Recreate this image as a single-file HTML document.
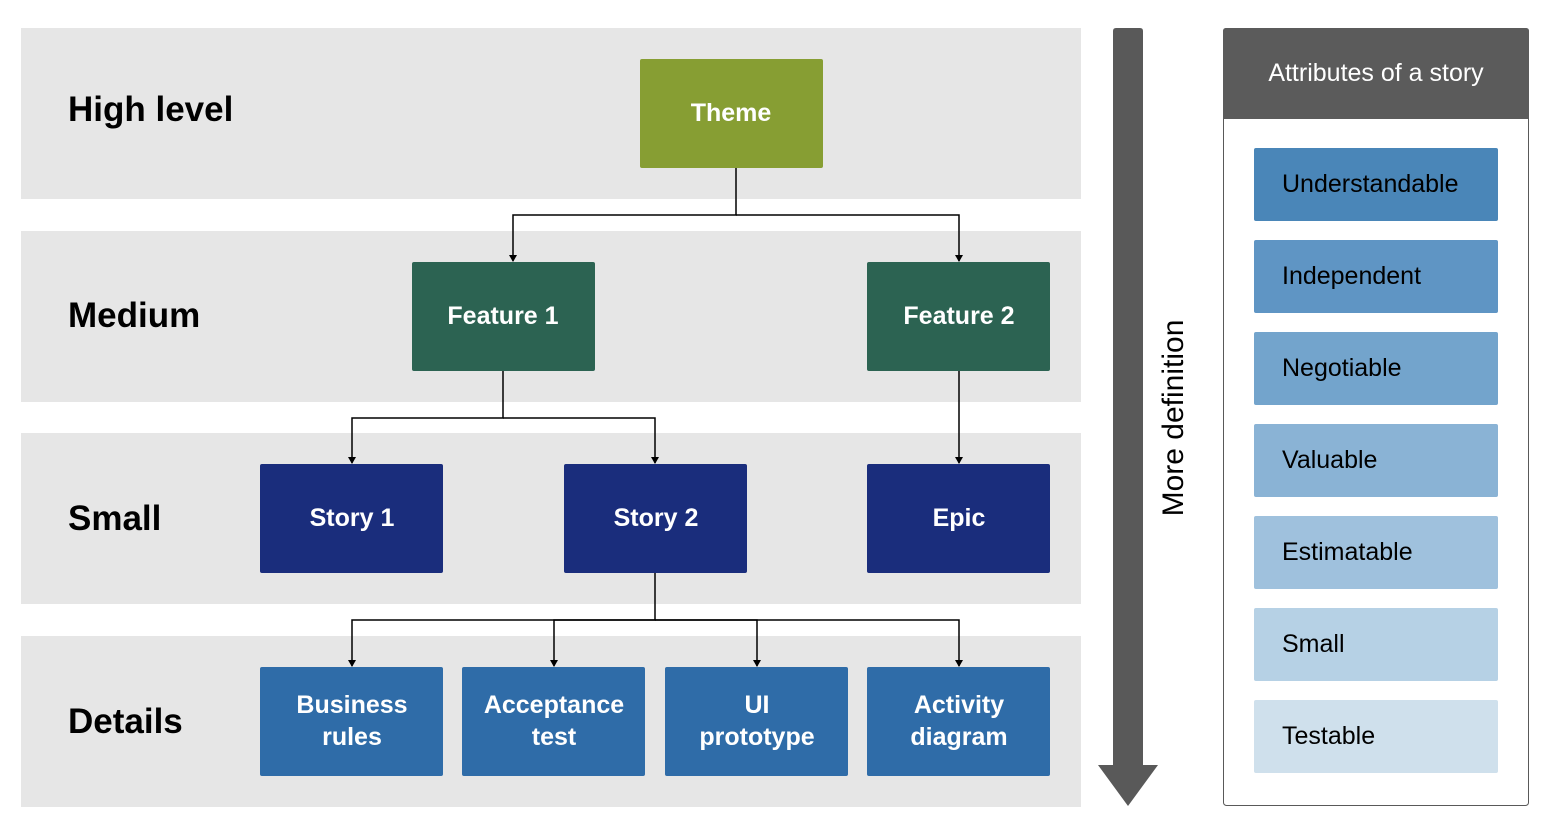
<!DOCTYPE html>
<html><head><style>
body{margin:0;width:1554px;height:824px;background:#fff;overflow:hidden}
svg text{font-family:"Liberation Sans",sans-serif}
</style></head><body>
<svg width="1554" height="824" xmlns="http://www.w3.org/2000/svg">
<defs><marker id="a" markerWidth="8" markerHeight="8" refX="6" refY="4" orient="auto" markerUnits="userSpaceOnUse"><path d="M0,0 L7,4 L0,8 z" fill="#000"/></marker></defs>
<g fill="#e6e6e6">
<rect x="21" y="28" width="1060" height="171"/>
<rect x="21" y="231" width="1060" height="171"/>
<rect x="21" y="433" width="1060" height="171"/>
<rect x="21" y="636" width="1060" height="171"/>
</g>
<g font-size="35" font-weight="bold" fill="#000">
<text x="68" y="121">High level</text>
<text x="68" y="327">Medium</text>
<text x="68" y="530">Small</text>
<text x="68" y="733">Details</text>
</g>
<g stroke="#000" stroke-width="1.5" fill="none" marker-end="url(#a)">
<path d="M736,168 V215 H513 V261"/>
<path d="M736,215 H959 V261"/>
<path d="M503,371 V418 H352 V463"/>
<path d="M503,418 H655 V463"/>
<path d="M959,371 V463"/>
<path d="M655,573 V620 H352 V666"/>
<path d="M655,620 H554 V666"/>
<path d="M655,620 H757 V666"/>
<path d="M655,620 H959 V666"/>
</g>
<rect x="640" y="59" width="183" height="109" rx="2" fill="#879e33"/>
<rect x="412" y="262" width="183" height="109" rx="2" fill="#2c6352"/>
<rect x="867" y="262" width="183" height="109" rx="2" fill="#2c6352"/>
<rect x="260" y="464" width="183" height="109" rx="2" fill="#1a2d7c"/>
<rect x="564" y="464" width="183" height="109" rx="2" fill="#1a2d7c"/>
<rect x="867" y="464" width="183" height="109" rx="2" fill="#1a2d7c"/>
<g fill="#2f6ca8">
<rect x="260" y="667" width="183" height="109" rx="2"/>
<rect x="462" y="667" width="183" height="109" rx="2"/>
<rect x="665" y="667" width="183" height="109" rx="2"/>
<rect x="867" y="667" width="183" height="109" rx="2"/>
</g>
<g font-size="25" font-weight="bold" fill="#fff" text-anchor="middle">
<text x="731" y="121">Theme</text>
<text x="503" y="324">Feature 1</text>
<text x="959" y="324">Feature 2</text>
<text x="352" y="526">Story 1</text>
<text x="656" y="526">Story 2</text>
<text x="959" y="526">Epic</text>
<text x="352" y="713">Business</text><text x="352" y="745">rules</text>
<text x="554" y="713">Acceptance</text><text x="554" y="745">test</text>
<text x="757" y="713">UI</text><text x="757" y="745">prototype</text>
<text x="959" y="713">Activity</text><text x="959" y="745">diagram</text>
</g>
<path d="M1116,28 H1140 Q1143,28 1143,31 V765 H1158 L1128,806 L1098,765 H1113 V31 Q1113,28 1116,28 z" fill="#595959"/>
<text x="0" y="0" font-size="30" fill="#000" text-anchor="middle" transform="translate(1183,418) rotate(-90)">More definition</text>
<rect x="1223.5" y="28.5" width="305" height="777" rx="3" fill="#fff" stroke="#595959"/>
<path d="M1226,28 H1526 Q1529,28 1529,31 V119 H1223 V31 Q1223,28 1226,28 z" fill="#5b5b5b"/>
<text x="1376" y="81" font-size="25" fill="#fff" text-anchor="middle">Attributes of a story</text>
<g>
<rect x="1254" y="148" width="244" height="73" rx="2" fill="#4a86b8"/>
<rect x="1254" y="240" width="244" height="73" rx="2" fill="#5f95c4"/>
<rect x="1254" y="332" width="244" height="73" rx="2" fill="#73a4cc"/>
<rect x="1254" y="424" width="244" height="73" rx="2" fill="#8ab3d5"/>
<rect x="1254" y="516" width="244" height="73" rx="2" fill="#9fc1dd"/>
<rect x="1254" y="608" width="244" height="73" rx="2" fill="#b6d1e5"/>
<rect x="1254" y="700" width="244" height="73" rx="2" fill="#cfe0ec"/>
</g>
<g font-size="25" fill="#000">
<text x="1282" y="192">Understandable</text>
<text x="1282" y="284">Independent</text>
<text x="1282" y="376">Negotiable</text>
<text x="1282" y="468">Valuable</text>
<text x="1282" y="560">Estimatable</text>
<text x="1282" y="652">Small</text>
<text x="1282" y="744">Testable</text>
</g>
</svg>
</body></html>
